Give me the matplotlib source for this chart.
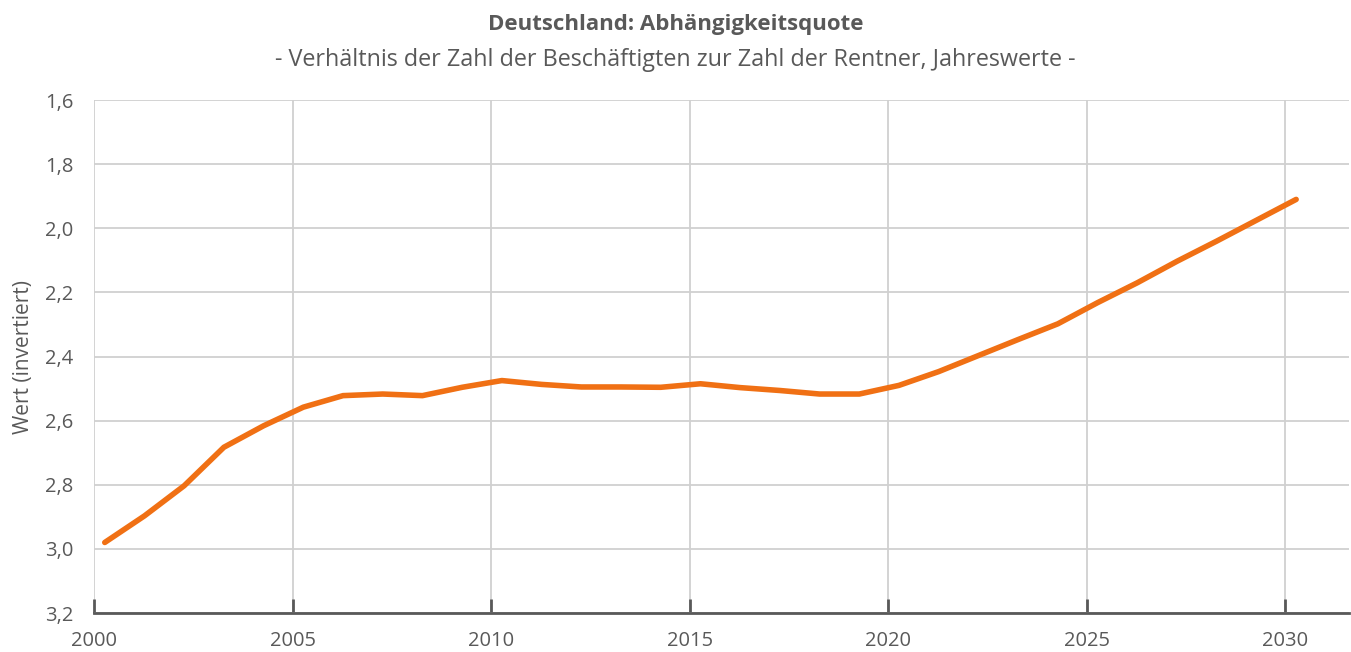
import matplotlib.pyplot as plt

plt.rcParams['font.family'] = ['Open Sans', 'DejaVu Sans']

# Abhängigkeitsquote, Jahreswerte
years = list(range(2000, 2031))
quote = [2.980, 2.897, 2.803, 2.683, 2.616, 2.558, 2.522, 2.517, 2.522, 2.496,
         2.475, 2.487, 2.495, 2.495, 2.496, 2.485, 2.497, 2.506, 2.517, 2.517,
         2.490, 2.447, 2.397, 2.347, 2.298, 2.232, 2.170, 2.103, 2.040, 1.975,
         1.910]
y_ticks = [1.6, 1.8, 2.0, 2.2, 2.4, 2.6, 2.8, 3.0, 3.2]
x_ticks = [2000, 2005, 2010, 2015, 2020, 2025, 2030]

grey = '#595959'

fig = plt.figure(figsize=(13.51, 6.52), dpi=100)
ax = fig.add_axes([0.0696, 0.0598, 0.9289, 0.7868])

# Werte liegen etwas nach dem Jahresbeginn
xs = [y + 0.27 for y in years]
ax.plot(xs, quote, color='#F07014', lw=4, solid_capstyle='round', zorder=3)

ax.set_xlim(2000, 2031.6)
ax.set_ylim(3.2, 1.6)
ax.set_yticks(y_ticks)
ax.set_yticklabels([f'{v:.1f}'.replace('.', ',') for v in y_ticks])
ax.set_xticks(x_ticks)

ax.grid(True, color='#d0d0d0', lw=1.3)
ax.set_axisbelow(True)
for s in ['left', 'right', 'top']:
    ax.spines[s].set_visible(False)
ax.spines['bottom'].set_color(grey)
ax.spines['bottom'].set_linewidth(2)

ax.tick_params(axis='x', direction='in', length=10, width=2, color=grey,
               labelsize=14.5, labelcolor=grey, pad=13)
ax.tick_params(axis='y', length=0, labelsize=14.5, labelcolor=grey, pad=15)

ax.set_ylabel('Wert (invertiert)', fontsize=15, color=grey)
ax.yaxis.set_label_coords(-0.048, 0.5)

fig.text(0.5, 0.963, 'Deutschland: Abhängigkeitsquote', ha='center', va='center',
         fontsize=16, fontweight='bold', color=grey)
fig.text(0.5, 0.908, '- Verhältnis der Zahl der Beschäftigten zur Zahl der Rentner, Jahreswerte -',
         ha='center', va='center', fontsize=16.8, color=grey)

fig.savefig('out.png', dpi=100)
